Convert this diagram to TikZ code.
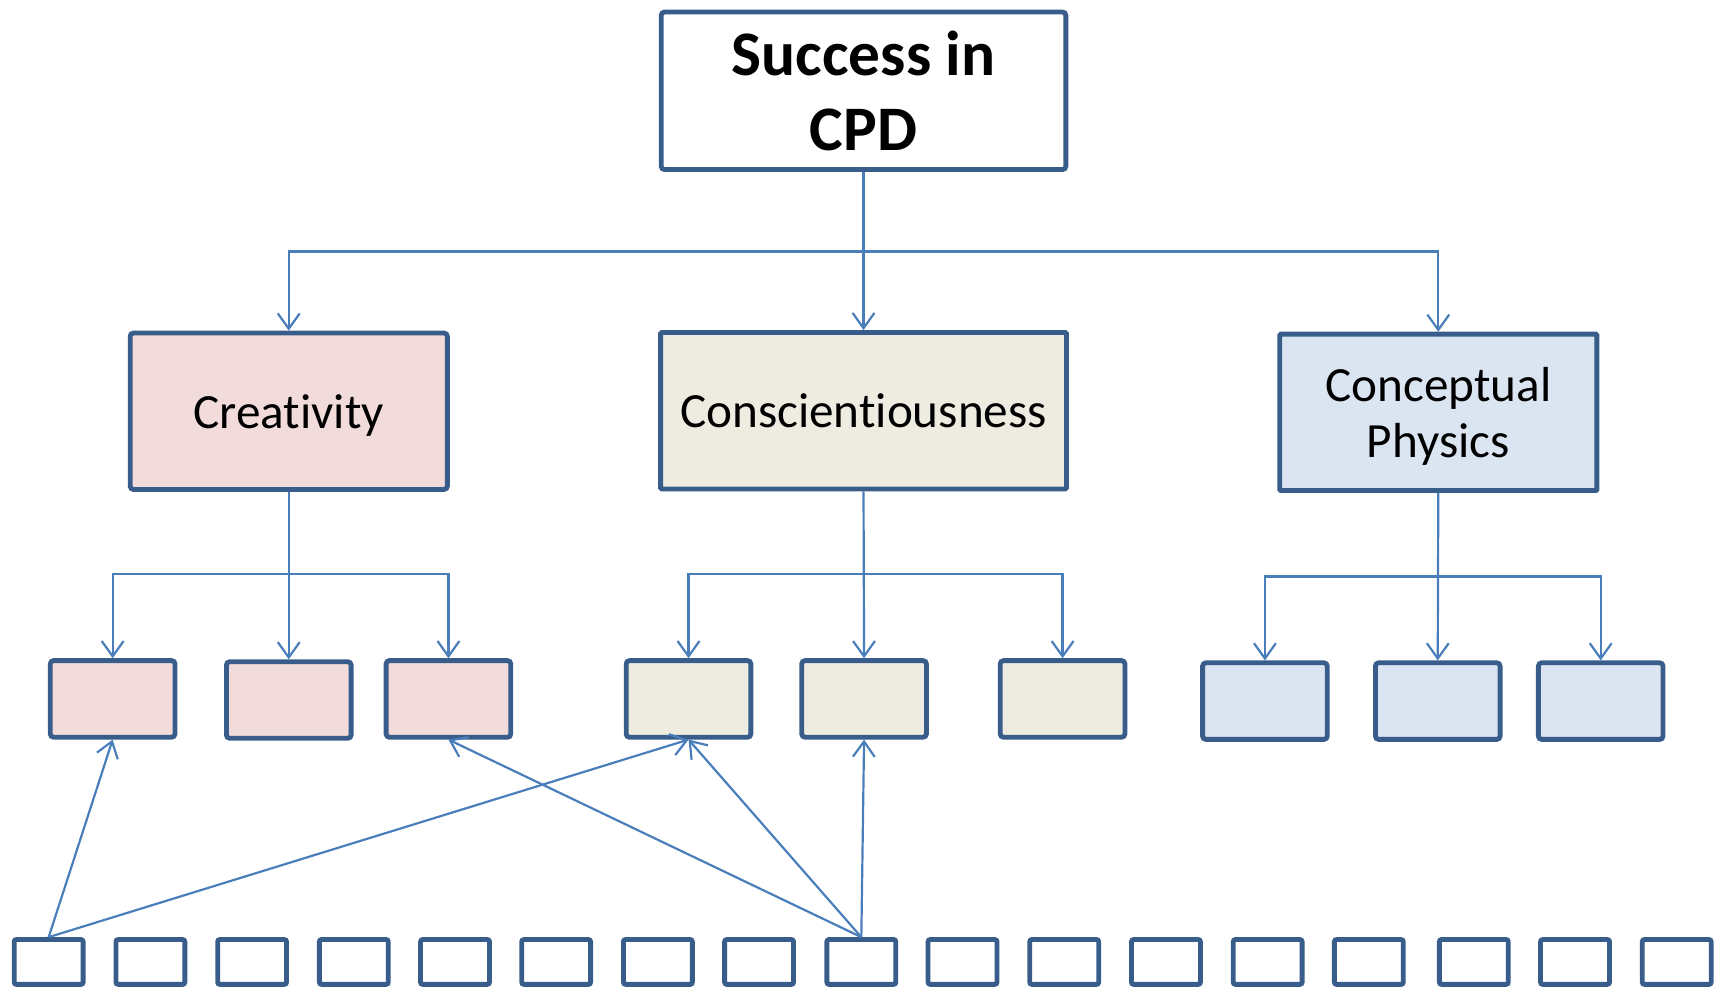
\documentclass[tikz,border=0pt]{standalone}
\usepackage{fontspec}
\setmainfont{Carlito}[Ligatures=NoCommon]
\usetikzlibrary{arrows.meta}

\definecolor{edgeblue}{HTML}{385D8A}
\definecolor{linkblue}{HTML}{4A7EBB}
\definecolor{pinkfill}{HTML}{F2DCDB}
\definecolor{beigefill}{HTML}{EEECE1}
\definecolor{bluefill}{HTML}{DBE5F1}

\tikzset{
  box/.style={draw=edgeblue, line width=4.4pt, rounded corners=3pt,
              inner sep=0pt, align=center},
  headbox/.style={box, minimum width=290pt, minimum height=143pt,
              text depth=0pt, font=\fontsize{45}{52}\selectfont},
  leafbox/.style={box, minimum width=114pt, minimum height=70pt},
  itembox/.style={box, fill=white, minimum width=63pt, minimum height=41pt,
              rounded corners=2pt},
  link/.style={draw=linkblue, line width=2pt,
              -{Straight Barb[length=14pt,width=20pt]}},
}

\begin{document}
\begin{tikzpicture}[x=1pt,y=-1pt]
\useasboundingbox (0,0) rectangle (1568,905);

% goal
\node[box, fill=white, minimum width=370pt, minimum height=144pt,
      font=\fontsize{58}{69}\selectfont\bfseries] (top) at (789.5,83) {Success in\\CPD};

% factors
\node[headbox, fill=pinkfill] (cre) at (264,376) {Creativity};
\node[headbox, fill=beigefill, minimum width=371pt, rounded corners=1pt] (con) at (789.5,375.5) {Conscientiousness};
\node[headbox, fill=bluefill, rounded corners=1pt] (phy) at (1315,377) {Conceptual\\Physics};

% sub-factors
\node[leafbox, fill=pinkfill] (p1) at (103,639) {};
\node[leafbox, fill=pinkfill] (p2) at (264,640) {};
\node[leafbox, fill=pinkfill] (p3) at (410,639) {};
\node[leafbox, fill=beigefill] (c1) at (629.5,639) {};
\node[leafbox, fill=beigefill] (c2) at (790,639) {};
\node[leafbox, fill=beigefill] (c3) at (971.5,639) {};
\node[leafbox, fill=bluefill] (q1) at (1156.5,641) {};
\node[leafbox, fill=bluefill] (q2) at (1314.5,641) {};
\node[leafbox, fill=bluefill] (q3) at (1463.5,641) {};

% items
\foreach \x [count=\i] in {44.5,137.5,230.5,323.5,416,508.5,601.5,694,787.5,
                           880,973,1066,1159,1251.5,1347.5,1440,1533}
  \node[itembox] (b\i) at (\x,879.5) {};

% tree connectors
\coordinate (hub) at (789.5,230);
\draw[link] (top.south) -- (con.north);
\draw[link] (hub) -| (cre.north);
\draw[link] (hub) -| (phy.north);

\coordinate (crehub) at (264,525);
\draw[link] (cre.south) -- (p2.north);
\draw[link] (crehub) -| (p1.north);
\draw[link] (crehub) -| (p3.north);

\coordinate (conhub) at (789.5,525);
\draw[link] (con.south) -- (c2.north);
\draw[link] (conhub) -| (c1.north);
\draw[link] (conhub) -| (c3.north);

\coordinate (phyhub) at (1315,527);
\draw[link] (phy.south) -- (q2.north);
\draw[link] (phyhub) -| (q1.north);
\draw[link] (phyhub) -| (q3.north);

% item loadings
\draw[link] (b1.north) -- (p1.south);
\draw[link] (b1.north) -- (c1.south);
\draw[link] (b9.north) -- (p3.south);
\draw[link] (b9.north) -- (c1.south);
\draw[link] (b9.north) -- (c2.south);
\end{tikzpicture}
\end{document}
